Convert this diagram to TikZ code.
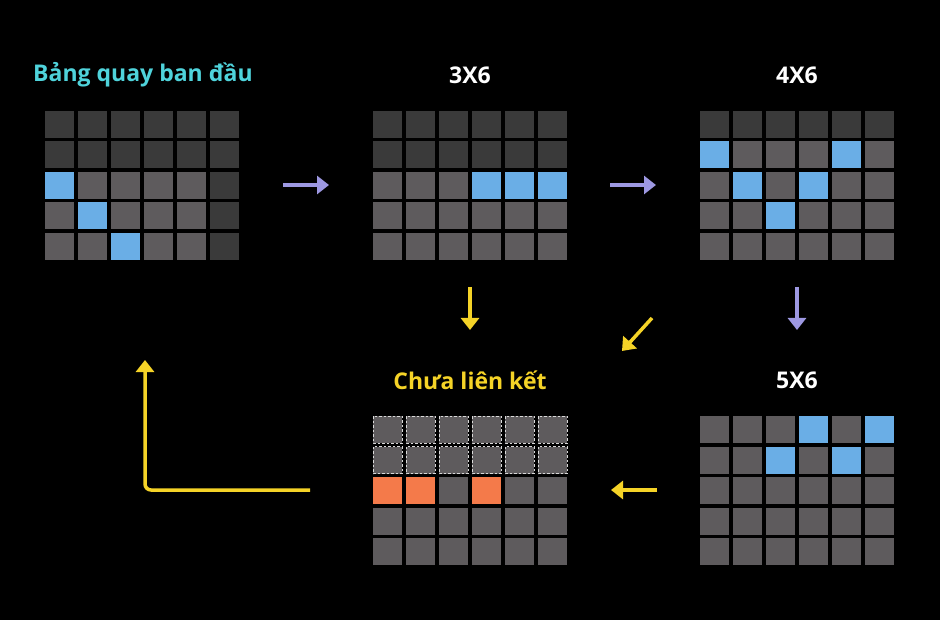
\documentclass[tikz,border=0pt]{standalone}
\usepackage{fontspec}
\setmainfont{Open Sans}
\usetikzlibrary{arrows.meta}
\definecolor{dk}{HTML}{3A3A3A}
\definecolor{md}{HTML}{5E5B5D}
\definecolor{bl}{HTML}{6AAEE6}
\definecolor{og}{HTML}{F47A4A}
\definecolor{cy}{HTML}{4FD3DB}
\definecolor{yl}{HTML}{F5D327}
\definecolor{pu}{HTML}{9D98E2}
\tikzset{
 lbl/.style={font=\bfseries\fontsize{23}{27}\selectfont},
 parr/.style={pu,line width=3.5pt,-{Triangle[length=12pt,width=18pt]}},
 yarr/.style={yl,line width=3.5pt,-{Triangle[length=12pt,width=18pt]}},
}
% \gcell{x0}{y0}{col}{row}{color}
\newcommand\gcell[5]{\fill[#5] ({#1+33*#3},{#2+30.5*#4}) rectangle ++(29,27);}
\newcommand\gdash[4]{\draw[white!85!black,line width=0.8pt,dash pattern=on 2.5pt off 2pt] ({#1+33*#3},{#2+30.5*#4}) rectangle ++(29,27);}
\begin{document}
\begin{tikzpicture}[x=1pt,y=-1pt]
\fill[black] (0,0) rectangle (940,620);
\useasboundingbox (0,0) rectangle (940,620);
% grid 1
\foreach \c in {0,...,5}{\foreach \r in {0,1}{\gcell{45}{111}{\c}{\r}{dk}}
 \foreach \r in {2,3,4}{\ifnum\c=5 \gcell{45}{111}{\c}{\r}{dk}\else\gcell{45}{111}{\c}{\r}{md}\fi}}
\gcell{45}{111}{0}{2}{bl}\gcell{45}{111}{1}{3}{bl}\gcell{45}{111}{2}{4}{bl}
% grid 2
\foreach \c in {0,...,5}{\foreach \r in {0,1}{\gcell{373}{111}{\c}{\r}{dk}}\foreach \r in {2,3,4}{\gcell{373}{111}{\c}{\r}{md}}}
\gcell{373}{111}{3}{2}{bl}\gcell{373}{111}{4}{2}{bl}\gcell{373}{111}{5}{2}{bl}
% grid 3
\foreach \c in {0,...,5}{\gcell{700}{111}{\c}{0}{dk}\foreach \r in {1,2,3,4}{\gcell{700}{111}{\c}{\r}{md}}}
\gcell{700}{111}{0}{1}{bl}\gcell{700}{111}{4}{1}{bl}\gcell{700}{111}{1}{2}{bl}\gcell{700}{111}{3}{2}{bl}\gcell{700}{111}{2}{3}{bl}
% grid 4
\foreach \c in {0,...,5}{\foreach \r in {0,...,4}{\gcell{700}{416}{\c}{\r}{md}}}
\gcell{700}{416}{3}{0}{bl}\gcell{700}{416}{5}{0}{bl}\gcell{700}{416}{2}{1}{bl}\gcell{700}{416}{4}{1}{bl}
% grid 5
\foreach \c in {0,...,5}{\foreach \r in {0,...,4}{\gcell{373}{416}{\c}{\r}{md}}\gdash{373}{416}{\c}{0}\gdash{373}{416}{\c}{1}}
\gcell{373}{416}{0}{2}{og}\gcell{373}{416}{1}{2}{og}\gcell{373}{416}{3}{2}{og}
% labels
\node[lbl,text=cy] (t1) at (143,75) {Bảng quay ban đầu};
\node[lbl,text=white] (t2) at (470,75) {3X6};
\node[lbl,text=white] (t3) at (797,75) {4X6};
\node[lbl,text=white] (t4) at (797,380) {5X6};
\node[lbl,text=yl] (t5) at (470,380) {Chưa liên kết};
% arrows
\coordinate (a1) at (283,185); \coordinate (b1) at (329,185);
\coordinate (a2) at (610,185); \coordinate (b2) at (656,185);
\coordinate (a3) at (797,287); \coordinate (b3) at (797,330);
\coordinate (a4) at (470,287); \coordinate (b4) at (470,330);
\coordinate (a5) at (652,318); \coordinate (b5) at (622,351);
\coordinate (a6) at (657,490); \coordinate (b6) at (611,490);
\coordinate (a7) at (310,490); \coordinate (c7) at (145,490); \coordinate (b7) at (145,360);
\draw[parr] (a1) -- (b1);
\draw[parr] (a2) -- (b2);
\draw[parr] (a3) -- (b3);
\draw[yarr] (a4) -- (b4);
\draw[yarr] (a5) -- (b5);
\draw[yarr] (a6) -- (b6);
\draw[yarr,rounded corners=6pt] (a7) -- (c7) -- (b7);
\end{tikzpicture}
\end{document}
